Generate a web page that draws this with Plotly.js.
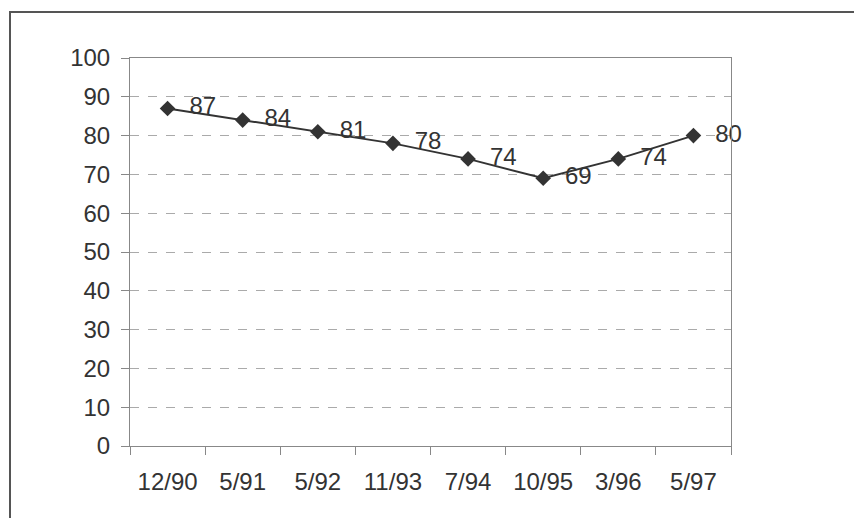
<!DOCTYPE html>
<html>
<head>
<meta charset="utf-8">
<script src="https://cdn.plot.ly/plotly-3.0.1.min.js"></script>
<style>html,body{margin:0;padding:0;background:#fff;}#chart{width:854px;height:518px;}</style>
</head>
<body>
<div id="chart"></div>
<script>
var categories = ["12/90", "5/91", "5/92", "11/93", "7/94", "10/95", "3/96", "5/97"];
var values = [87, 84, 81, 78, 74, 69, 74, 80];
var yTicks = [0, 10, 20, 30, 40, 50, 60, 70, 80, 90, 100];

var trace = {
  x: categories,
  y: values,
  type: "scatter",
  mode: "lines+markers+text",
  text: values.map(function (v) { return "  " + v; }),
  textposition: "middle right",
  textfont: {family: "Liberation Sans, Arial, sans-serif", size: 24, color: "#333"},
  line: {color: "#333", width: 2},
  marker: {symbol: "diamond", size: 12, color: "#333"},
  cliponaxis: false,
  hoverinfo: "none"
};

var layout = {
  width: 854, height: 518,
  margin: {l: 130, r: 123, t: 58, b: 72},
  paper_bgcolor: "#fff", plot_bgcolor: "#fff",
  showlegend: false,
  font: {family: "Liberation Sans, Arial, sans-serif", size: 24, color: "#333"},
  xaxis: {
    type: "category",
    range: [-0.5, 7.5],
    tickson: "boundaries",
    ticks: "outside", ticklen: 8, tickcolor: "#888", tickwidth: 1,
    ticklabelstandoff: 14,
    showgrid: false,
    showline: true, linecolor: "#888", linewidth: 1,
    mirror: true,
    zeroline: false,
    fixedrange: true
  },
  yaxis: {
    range: [0, 100],
    tickvals: yTicks,
    ticks: "outside", ticklen: 8, tickcolor: "#888", tickwidth: 1,
    ticklabelstandoff: 6,
    showgrid: true, gridcolor: "#aaa", griddash: "dash", gridwidth: 1,
    showline: true, linecolor: "#888", linewidth: 1,
    mirror: true,
    zeroline: false,
    fixedrange: true
  },
  shapes: [{
    type: "rect", xref: "paper", yref: "paper",
    x0: (10 - 130) / 601, x1: (870 - 130) / 601,
    y0: (446 - 530) / 388, y1: (446 - 12) / 388,
    line: {color: "#555", width: 2}, fillcolor: "rgba(0,0,0,0)", layer: "below"
  }]
};

Plotly.newPlot("chart", [trace], layout, {staticPlot: true, displayModeBar: false});
</script>
</body>
</html>
